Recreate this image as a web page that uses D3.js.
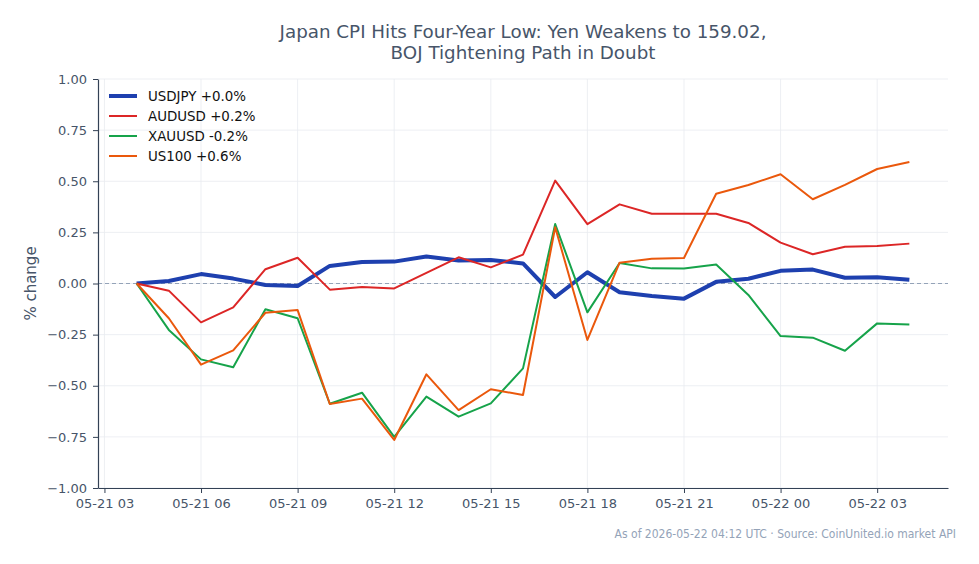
<!DOCTYPE html>
<html>
<head>
<meta charset="utf-8">
<script src="https://cdn.jsdelivr.net/npm/d3@7"></script>
<style>
  body { margin: 0; background: #fff; }
  svg { font-family: "DejaVu Sans", sans-serif; }
</style>
</head>
<body>
<div id="container"></div>
<script>
/* DATA */
const times = [
  "2026-05-21T04:00Z", "2026-05-21T05:00Z", "2026-05-21T06:00Z", "2026-05-21T07:00Z",
  "2026-05-21T08:00Z", "2026-05-21T09:00Z", "2026-05-21T10:00Z", "2026-05-21T11:00Z",
  "2026-05-21T12:00Z", "2026-05-21T13:00Z", "2026-05-21T14:00Z", "2026-05-21T15:00Z",
  "2026-05-21T16:00Z", "2026-05-21T17:00Z", "2026-05-21T18:00Z", "2026-05-21T19:00Z",
  "2026-05-21T20:00Z", "2026-05-21T21:00Z", "2026-05-21T22:00Z", "2026-05-21T23:00Z",
  "2026-05-22T00:00Z", "2026-05-22T01:00Z", "2026-05-22T02:00Z", "2026-05-22T03:00Z",
  "2026-05-22T04:00Z"
]

const usdjpy = [0, 0.012, 0.046, 0.024, -0.007, -0.012, 0.086, 0.105, 0.107, 0.132, 0.112, 0.115, 0.098,
  -0.066, 0.055, -0.043, -0.061, -0.074, 0.008, 0.023, 0.062, 0.068, 0.028, 0.030, 0.018]
const audusd = [0, -0.035, -0.19, -0.117, 0.07, 0.126, -0.03, -0.017, -0.024, 0.052, 0.128, 0.079, 0.141,
  0.503, 0.29, 0.387, 0.341, 0.341, 0.341, 0.296, 0.2, 0.143, 0.18, 0.183, 0.195]
const xauusd = [0, -0.227, -0.371, -0.41, -0.126, -0.17, -0.588, -0.534, -0.75, -0.553, -0.651, -0.586, -0.415,
  0.291, -0.141, 0.1, 0.074, 0.073, 0.093, -0.056, -0.257, -0.265, -0.329, -0.195, -0.201]
const us100 = [0, -0.17, -0.397, -0.327, -0.143, -0.13, -0.589, -0.563, -0.765, -0.444, -0.619, -0.517, -0.545,
  0.275, -0.276, 0.102, 0.121, 0.125, 0.439, 0.482, 0.534, 0.412, 0.482, 0.56, 0.594]

const seriesNames = ["USDJPY +0.0%", "AUDUSD +0.2%", "XAUUSD -0.2%", "US100 +0.6%"]
const seriesValues = [usdjpy, audusd, xauusd, us100]
const seriesColors = ["#1e40af", "#dc2626", "#16a34a", "#ea580c"]
const seriesWidths = [4, 2, 2, 2]

const yTicks = [-1, -0.75, -0.5, -0.25, 0, 0.25, 0.5, 0.75, 1]
const xTicks = ["2026-05-21T03:00Z", "2026-05-21T06:00Z", "2026-05-21T09:00Z", "2026-05-21T12:00Z",
  "2026-05-21T15:00Z", "2026-05-21T18:00Z", "2026-05-21T21:00Z", "2026-05-22T00:00Z", "2026-05-22T03:00Z"]

const title = ["Japan CPI Hits Four-Year Low: Yen Weakens to 159.02,", "BOJ Tightening Path in Doubt"]
const footer = "As of 2026-05-22 04:12 UTC · Source: CoinUnited.io market API"

/* CONSTANTS */
const width = 979, height = 564
const margin = {top: 79, bottom: 76, left: 98, right: 31}
const textCol = "#475569"

const dates = times.map(t => new Date(t))

const svg = d3.select("#container")
  .append("svg")
  .attr("width", width)
  .attr("height", height)

// SCALES
const ext = d3.extent(dates)
const pad = (ext[1] - ext[0]) * 0.05
const xScale = d3.scaleUtc()
  .domain([new Date(+ext[0] - pad), new Date(+ext[1] + pad)])
  .range([margin.left, width - margin.right])

const yScale = d3.scaleLinear()
  .domain([-1, 1])
  .range([height - margin.bottom, margin.top])

// GRID
svg.append("g")
  .selectAll("line")
  .data(yTicks)
  .join("line")
  .attr("x1", margin.left).attr("x2", width - margin.right)
  .attr("y1", d => yScale(d)).attr("y2", d => yScale(d))
  .attr("stroke", "#e8ebf0").attr("stroke-width", 0.8)

svg.append("g")
  .selectAll("line")
  .data(xTicks.map(t => new Date(t)))
  .join("line")
  .attr("x1", d => xScale(d)).attr("x2", d => xScale(d))
  .attr("y1", margin.top).attr("y2", height - margin.bottom)
  .attr("stroke", "#e8ebf0").attr("stroke-width", 0.8)

// ZERO LINE
svg.append("line")
  .attr("x1", margin.left).attr("x2", width - margin.right)
  .attr("y1", yScale(0)).attr("y2", yScale(0))
  .attr("stroke", "#94a3b8").attr("stroke-width", 1)
  .attr("stroke-dasharray", "4,3")

// AXES
const fmt = d3.utcFormat("%m-%d %H")
const xAxis = d3.axisBottom(xScale)
  .tickValues(xTicks.map(t => new Date(t)))
  .tickFormat(fmt)
  .tickSize(5)
  .tickSizeOuter(0)
const gx = svg.append("g")
  .attr("transform", `translate(0, ${height - margin.bottom})`)
  .call(xAxis)
gx.select(".domain").attr("stroke", "#334155").attr("stroke-width", 1.2)
gx.selectAll(".tick line").attr("stroke", "#334155")
gx.selectAll(".tick text")
  .attr("fill", textCol)
  .style("font-size", "13px")
  .style("font-family", "DejaVu Sans")
  .attr("dy", "0.9em")

const yAxis = d3.axisLeft(yScale)
  .tickValues(yTicks)
  .tickFormat(d => d3.format(".2f")(d).replace("-", "\u2212"))
  .tickSize(5)
  .tickSizeOuter(0)
const gy = svg.append("g")
  .attr("transform", `translate(${margin.left},0)`)
  .call(yAxis)
gy.select(".domain").attr("stroke", "#334155").attr("stroke-width", 1.2)
gy.selectAll(".tick line").attr("stroke", "#334155")
gy.selectAll(".tick text")
  .attr("fill", textCol)
  .style("font-size", "13px")
  .style("font-family", "DejaVu Sans")
  .attr("x", -11)

// Y LABEL
svg.append("text")
  .attr("transform", `translate(36, ${yScale(0)}) rotate(-90)`)
  .attr("text-anchor", "middle")
  .attr("fill", textCol)
  .style("font-size", "15px")
  .text("% change")

// LINES
const lineGen = d3.line()
  .x((d, i) => xScale(dates[i]))
  .y(d => yScale(d))

svg.selectAll("path.line")
  .data(seriesValues)
  .join("path")
  .attr("class", "line")
  .attr("fill", "none")
  .attr("stroke", (d, i) => seriesColors[i])
  .attr("stroke-width", (d, i) => seriesWidths[i])
  .attr("stroke-linejoin", "round")
  .attr("d", d => lineGen(d))

// LEGEND
const leg = svg.append("g").attr("transform", "translate(109, 96)")
seriesNames.forEach((name, i) => {
  const g = leg.append("g").attr("transform", `translate(0, ${i * 20})`)
  g.append("line")
    .attr("x1", 0).attr("x2", 28)
    .attr("stroke", seriesColors[i])
    .attr("stroke-width", seriesWidths[i])
  g.append("text")
    .attr("x", 39).attr("dy", "0.35em")
    .attr("fill", "#111")
    .style("font-size", "13.4px")
    .text(name)
})

// TITLE
svg.append("text")
  .attr("x", 523).attr("y", 38)
  .attr("text-anchor", "middle")
  .attr("fill", textCol)
  .style("font-size", "18.3px")
  .selectAll("tspan")
  .data(title)
  .join("tspan")
  .attr("x", 523)
  .attr("dy", (d, i) => i === 0 ? 0 : 21)
  .text(d => d)

// FOOTER
svg.append("text")
  .attr("x", 956).attr("y", 538)
  .attr("text-anchor", "end")
  .attr("fill", "#94a3b8")
  .style("font-family", "'DejaVu Sans Condensed', 'DejaVu Sans'")
  .style("font-stretch", "condensed")
  .style("font-size", "12px")
  .text(footer)
</script>
</body>
</html>
